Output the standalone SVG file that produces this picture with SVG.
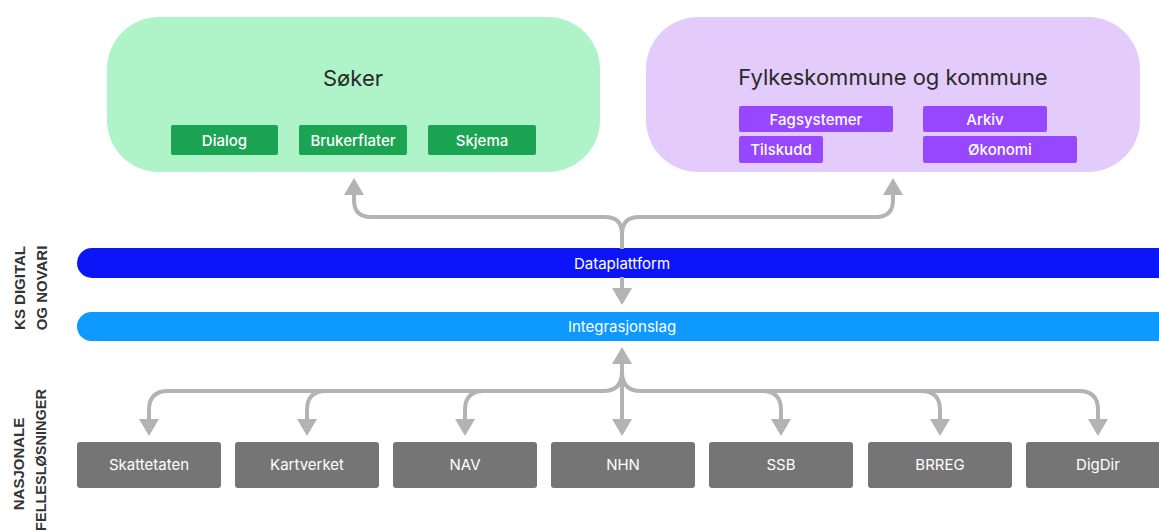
<svg xmlns="http://www.w3.org/2000/svg" width="1159" height="532" viewBox="0 0 1159 532">
<style>
text{font-family:Inter,"Noto Sans","Liberation Sans",sans-serif;}
.title{font-size:22px;fill:#2a2a2a;text-anchor:middle;}
.lbl{font-size:15px;font-weight:500;fill:#ffffff;text-anchor:middle;}
.glbl{font-size:15px;font-weight:400;fill:#ffffff;text-anchor:middle;}
.side{font-family:"Liberation Sans",Arial,sans-serif;font-size:15px;font-weight:700;fill:#333333;text-anchor:middle;}
.bar{font-size:15px;font-weight:400;fill:#ffffff;text-anchor:middle;}
.g{fill:#1ba552;}
.p{fill:#9747ff;}
.gray{fill:#757575;}
.con{fill:none;stroke:#b3b3b3;stroke-width:4;}
</style>
<defs>
<marker id="ah" viewBox="0 0 17 20" refX="1" refY="10" markerWidth="17" markerHeight="20" markerUnits="userSpaceOnUse" orient="auto-start-reverse">
<path d="M0,0 L17,10 L0,20 z" fill="#b3b3b3"/>
</marker>
</defs>
<rect width="1159" height="532" fill="#ffffff"/>

<g id="soker">
<rect x="107" y="17" width="493" height="155" rx="52" fill="#aff3c8"/>
<text class="title" x="353" y="86">Søker</text>
<rect class="g" x="171" y="125" width="107" height="30" rx="2"/>
<text class="lbl" x="224.5" y="145.5">Dialog</text>
<rect class="g" x="299" y="125" width="108" height="30" rx="2"/>
<text class="lbl" x="353" y="145.5">Brukerflater</text>
<rect class="g" x="428" y="125" width="108" height="30" rx="2"/>
<text class="lbl" x="482" y="145.5">Skjema</text>
</g>

<g id="kommune">
<rect x="646" y="17" width="494" height="155" rx="52" fill="#e3ccfb"/>
<text class="title" x="893" y="85">Fylkeskommune og kommune</text>
<rect class="p" x="739" y="106" width="154" height="26" rx="2"/>
<text class="lbl" x="816" y="124.5">Fagsystemer</text>
<rect class="p" x="923" y="106" width="124" height="26" rx="2"/>
<text class="lbl" x="985" y="124.5">Arkiv</text>
<rect class="p" x="739" y="136" width="84" height="27" rx="2"/>
<text class="lbl" x="781" y="155">Tilskudd</text>
<rect class="p" x="923" y="136" width="154" height="27" rx="2"/>
<text class="lbl" x="1000" y="155">Økonomi</text>
</g>

<g id="ks-label">
<text class="side" transform="translate(25,288) rotate(-90)">KS DIGITAL</text>
<text class="side" transform="translate(47,288) rotate(-90)">OG NOVARI</text>
</g>

<g id="nasjonale-label">
<text class="side" transform="translate(24,464) rotate(-90)">NASJONALE</text>
<text class="side" style="font-size:14.5px" transform="translate(46,460) rotate(-90)">FELLESLØSNINGER</text>
</g>

<g id="dataplattform">
<rect x="77" y="248" width="1110" height="30" rx="15" fill="#0c14f8"/>
<text class="bar" x="622" y="268.5">Dataplattform</text>
</g>

<g id="integrasjonslag">
<rect x="77" y="312" width="1110" height="29" rx="14.5" fill="#0d99ff"/>
<text class="bar" x="622" y="331.5">Integrasjonslag</text>
</g>

<g id="skattetaten"><rect class="gray" x="77" y="442" width="144" height="46" rx="3"/><text class="glbl" x="149" y="470">Skattetaten</text></g>
<g id="kartverket"><rect class="gray" x="235" y="442" width="144" height="46" rx="3"/><text class="glbl" x="307" y="470">Kartverket</text></g>
<g id="nav"><rect class="gray" x="393" y="442" width="144" height="46" rx="3"/><text class="glbl" x="465" y="470">NAV</text></g>
<g id="nhn"><rect class="gray" x="551" y="442" width="144" height="46" rx="3"/><text class="glbl" x="623" y="470">NHN</text></g>
<g id="ssb"><rect class="gray" x="709" y="442" width="144" height="46" rx="3"/><text class="glbl" x="781" y="470">SSB</text></g>
<g id="brreg"><rect class="gray" x="868" y="442" width="144" height="46" rx="3"/><text class="glbl" x="940" y="470">BRREG</text></g>
<g id="digdir"><rect class="gray" x="1026" y="442" width="144" height="46" rx="3"/><text class="glbl" x="1098" y="470">DigDir</text></g>

<g id="connectors">
<path class="con" marker-end="url(#ah)" d="M622,249 L622,234 Q622,217 605,217 L371,217 Q354,217 354,200 L354,194"/>
<path class="con" marker-end="url(#ah)" d="M622,234 Q622,217 639,217 L876,217 Q893,217 893,200 L893,194"/>
<path class="con" marker-end="url(#ah)" d="M622,277 L622,289"/>
<path class="con" marker-start="url(#ah)" marker-end="url(#ah)" d="M622,363 L622,420"/>
<path class="con" marker-end="url(#ah)" d="M622,372 Q622,391 603,391 L168,391 Q149,391 149,410 L149,420"/>
<path class="con" marker-end="url(#ah)" d="M326,391 Q307,391 307,410 L307,420"/>
<path class="con" marker-end="url(#ah)" d="M484,391 Q465,391 465,410 L465,420"/>
<path class="con" marker-end="url(#ah)" d="M622,372 Q622,391 641,391 L1079,391 Q1098,391 1098,410 L1098,420"/>
<path class="con" marker-end="url(#ah)" d="M762,391 Q781,391 781,410 L781,420"/>
<path class="con" marker-end="url(#ah)" d="M921,391 Q940,391 940,410 L940,420"/>
</g>
</svg>
